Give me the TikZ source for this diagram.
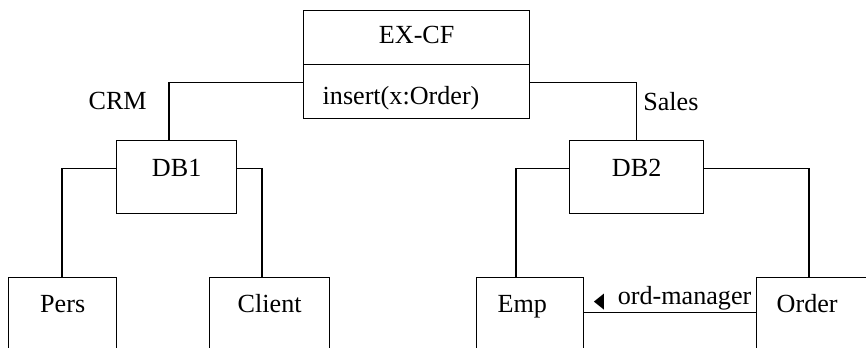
\documentclass[tikz,border=0pt]{standalone}
\usepackage{fontspec}
\setmainfont{Liberation Serif}
\usetikzlibrary{positioning,shapes.geometric}

\begin{document}
\begin{tikzpicture}[
x=0.75pt, y=-0.75pt,
every node/.style={font=\fontsize{19.6}{23}\selectfont, inner sep=0pt},
namebox/.style={draw, line width=1pt, minimum width=169.5pt, text height=24.75pt, text depth=15.75pt},
opsbox/.style={draw, line width=1pt, align=left, text width=141pt, inner xsep=14.25pt, text height=30pt, text depth=10.5pt},
pkgbox/.style={draw, line width=1pt, text height=27pt, text depth=27.75pt},
tablebox/.style={draw, line width=1pt, text height=26.25pt, text depth=48.75pt},
padded/.style={align=left, text width=#1},
link/.style={line width=1pt},
dirtri/.style={isosceles triangle, isosceles triangle stretches, shape border rotate=180, fill, minimum height=7.5pt, minimum width=12pt, inner sep=0pt}
]
\useasboundingbox (0,0) rectangle (866,347);
\clip (0,0) rectangle (866,347);

% federation class on top
\node[namebox, anchor=north west] (excf) at (303,10) {EX-CF};
\node[opsbox, below=-1pt of excf] (ops) {insert(x:Order)};

% the two databases
\node[pkgbox, anchor=north west, minimum width=90pt] (db1) at (116,140) {DB1};
\node[pkgbox, anchor=north west, minimum width=100.5pt] (db2) at (569,140) {DB2};

% tables, cut off at the bottom
\node[tablebox, anchor=north west, minimum width=81pt] (pers) at (8,277) {Pers};
\node[tablebox, anchor=north west, minimum width=90pt] (client) at (209,277) {Client};
\node[tablebox, anchor=north west, padded=48.75pt, inner xsep=15.75pt] (emp) at (476,277) {Emp};
\node[tablebox, anchor=north west, padded=82.5pt, inner xsep=15pt] (order) at (756,277) {Order};

\node[anchor=base east] (crm) at (147,109) {CRM};
\node[anchor=base west] (sales) at (643,110) {Sales};

\draw[link] ([yshift=6.75pt]ops.west) -| ([xshift=39.75pt]db1.north west);
\draw[link] ([yshift=6.75pt]ops.east) -| (db2.north);
\draw[link] ([yshift=6.4pt]db1.west) -| ([xshift=40.5pt]pers.north west);
\draw[link] ([yshift=6.4pt]db1.east) -| ([xshift=39.75pt]client.north west);
\draw[link] ([yshift=6.4pt]db2.west) -| ([xshift=30pt]emp.north west);
\draw[link] ([yshift=6.4pt]db2.east) -| ([xshift=39.75pt]order.north west);

% association between Emp and Order
\draw[link] (emp.base east) -- node[pos=1, anchor=base east, xshift=-3pt, yshift=6pt] (ordlbl) {ord-manager} (order.base west);
\node[dirtri, left=9.75pt of ordlbl.mid west] (dir) {};
\end{tikzpicture}
\end{document}
